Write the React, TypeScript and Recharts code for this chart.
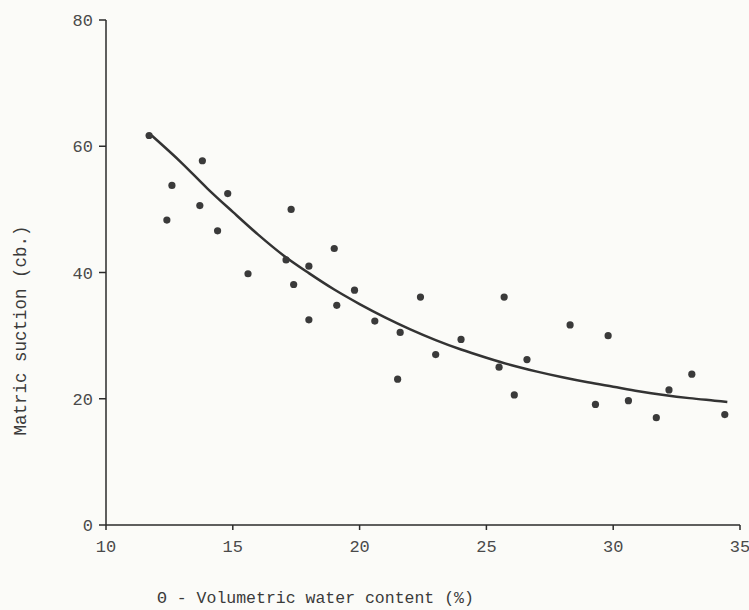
import {
  ComposedChart,
  Scatter,
  Line,
  XAxis,
  YAxis,
} from 'recharts'

// measured points (theta %, suction cb)
const obsTheta = [
  11.7, 12.6, 12.4, 13.8, 13.7, 14.4, 14.8, 15.6, 17.3, 17.1, 17.4, 18.0,
  18.0, 19.0, 19.1, 19.8, 20.6, 21.6, 21.5, 22.4, 23.0, 24.0, 25.5, 25.7,
  26.1, 26.6, 28.3, 29.3, 29.8, 30.6, 31.7, 32.2, 33.1, 34.4,
]
const obsSuction = [
  61.7, 53.8, 48.3, 57.7, 50.6, 46.6, 52.5, 39.8, 50.0, 42.0, 38.1, 41.0,
  32.5, 43.8, 34.8, 37.2, 32.3, 30.5, 23.1, 36.1, 27.0, 29.4, 25.0, 36.1,
  20.6, 26.2, 31.7, 19.1, 30.0, 19.7, 17.0, 21.4, 23.9, 17.5,
]

// fitted curve
const fitTheta = [
  11.8, 13, 14, 15, 16, 17, 18, 19, 20, 21, 22, 23, 24, 25, 26, 27, 28, 29,
  30, 31, 32, 33, 34, 34.5,
]
const fitSuction = [
  61.7, 57.3, 53.3, 49.6, 46.0, 42.7, 39.9, 37.3, 35.0, 32.9, 31.0, 29.3,
  27.8, 26.5, 25.3, 24.3, 23.4, 22.6, 21.9, 21.2, 20.6, 20.1, 19.7, 19.5,
]

const xTicks = [10, 15, 20, 25, 30, 35]
const yTicks = [0, 20, 40, 60, 80]

const points = obsTheta.map((t, i) => ({ x: t, y: obsSuction[i] }))
const curve = fitTheta.map((t, i) => ({ x: t, y: fitSuction[i] }))

const font = '"Liberation Mono", "Courier New", monospace'
const ink = '#2b2b2b'
const tickStyle = { fontSize: 17, fontFamily: font, fill: '#4a4a4a' }

const Dot = (props: any) => (
  <circle cx={props.cx} cy={props.cy} r={3.6} fill="#3a3a3a" />
)

export default function App() {
  return (
    <div style={{ width: 749, height: 610, background: '#fbfbf8' }}>
      <style>{`body{margin:0}`}</style>
      <ComposedChart
        width={749}
        height={610}
        margin={{ top: 20, right: 9, bottom: 55, left: 0 }}
      >
        <XAxis
          type="number"
          dataKey="x"
          domain={[10, 35]}
          ticks={xTicks}
          allowDataOverflow
          height={30}
          stroke={ink}
          strokeWidth={1.5}
          tickSize={5}
          tickMargin={10}
          tick={tickStyle}
          label={{
            value: '\u0398 - Volumetric water content (%)',
            position: 'insideBottomLeft',
            offset: 0,
            dx: 51,
            dy: 48,
            style: { fontSize: 16.5, fontFamily: font, fill: '#3a3a3a' },
          }}
        />
        <YAxis
          type="number"
          dataKey="y"
          domain={[0, 80]}
          ticks={yTicks}
          allowDataOverflow
          width={106}
          stroke={ink}
          strokeWidth={1.5}
          tickSize={7}
          tickMargin={6}
          tick={tickStyle}
          label={{
            value: 'Matric suction (cb.)',
            position: 'center',
            angle: -90,
            dx: -33,
            dy: 58,
            style: { fontSize: 17.5, fontFamily: font, fill: '#3a3a3a', textAnchor: 'middle' },
          }}
        />
        <Line
          data={curve}
          dataKey="y"
          type="monotone"
          stroke="#333"
          strokeWidth={2.5}
          dot={false}
          isAnimationActive={false}
        />
        <Scatter
          data={points}
          dataKey="y"
          shape={Dot}
          isAnimationActive={false}
        />
      </ComposedChart>
    </div>
  )
}
